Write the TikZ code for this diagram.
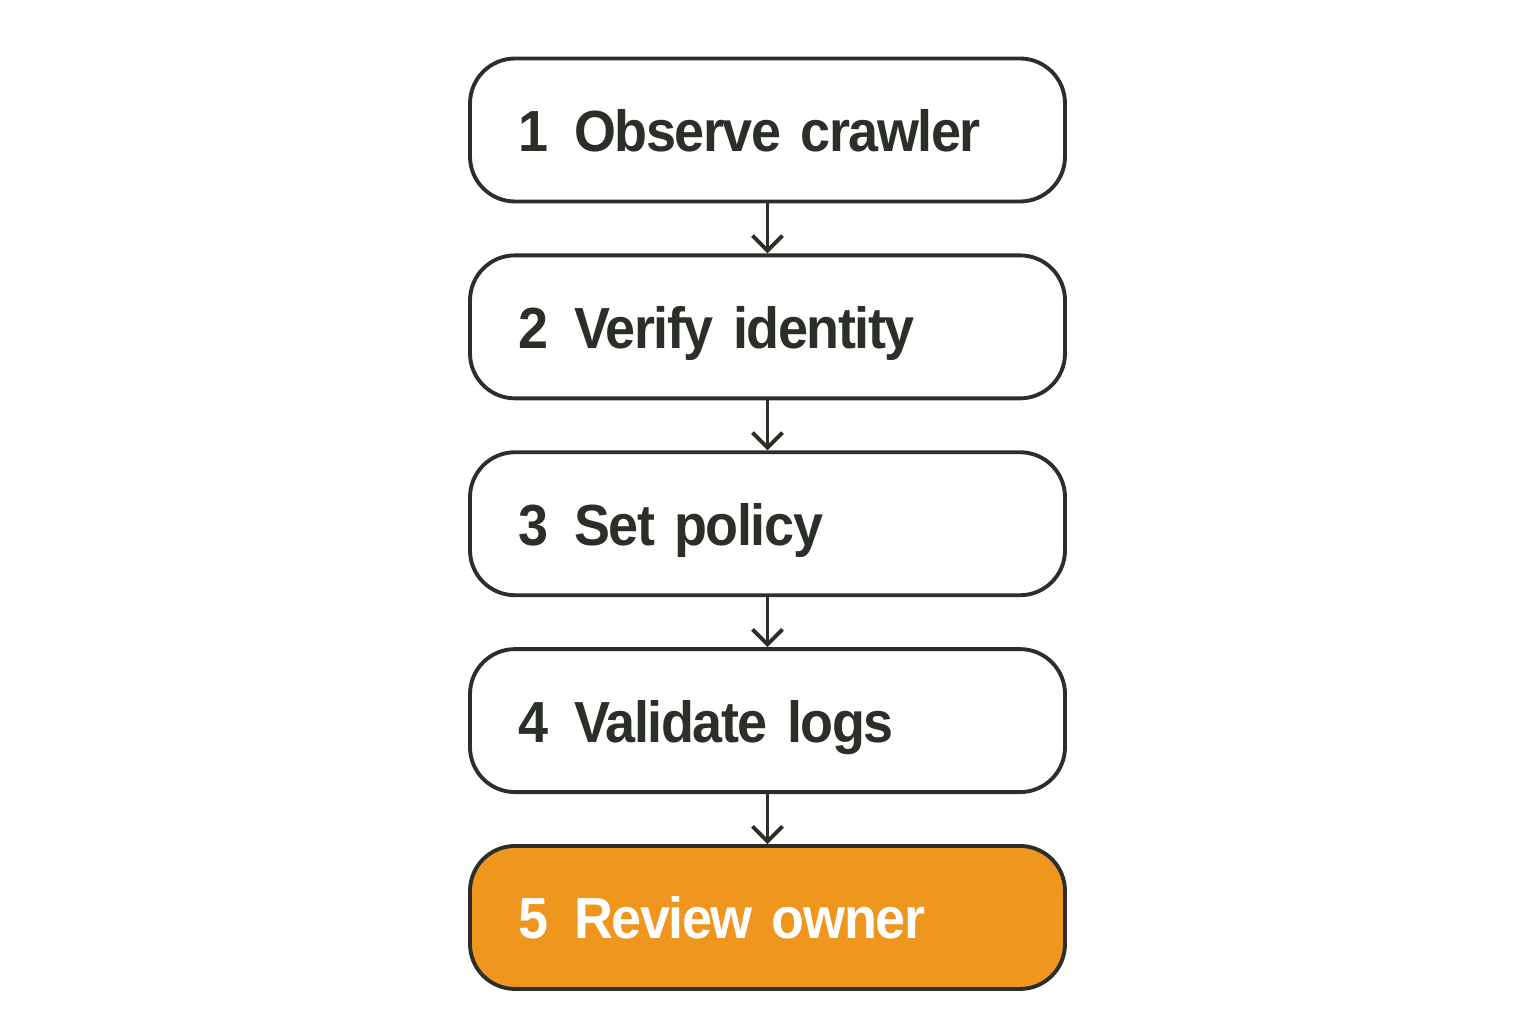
\documentclass[tikz,border=0pt]{standalone}
\usepackage{fontspec}
\setmainfont{Liberation Sans}[FakeStretch=0.93,LetterSpace=-2.5]
\usepackage{xcolor}
\usepackage{tikz}
\usetikzlibrary{positioning,arrows.meta}

\definecolor{inkdark}{HTML}{2A2F27}
\definecolor{ownerorange}{HTML}{EF961F}
\newcommand{\stepfont}{\fontsize{16.5}{19}\selectfont\bfseries\fontdimen2\font=0.12em\relax}

\begin{document}
\begin{tikzpicture}[
    node distance=0.50cm,
    stepbox/.style={rectangle,rounded corners=0.45cm,draw=inkdark,line width=1.1pt,
        minimum width=5.95cm,minimum height=1.43cm,inner xsep=0.48cm,
        text width=4.99cm,text height=0.43cm,text depth=0cm,align=left,
        font=\stepfont,text=inkdark,fill=white},
    arrow/.style={-{Straight Barb[length=1.5mm,width=3.0mm]},line width=1.1pt,inkdark}
]
\useasboundingbox (0,0) rectangle (15.36,10.24);

\node[stepbox] (observe) at (7.675,8.94) {1\hspace{0.45em}Observe crawler};
\node[stepbox,below=of observe] (verify) {2\hspace{0.45em}Verify identity};
\node[stepbox,below=of verify] (policy) {3\hspace{0.45em}Set policy};
\node[stepbox,below=of policy] (logs) {4\hspace{0.45em}Validate logs};
\node[stepbox,below=of logs,fill=ownerorange,text=white] (owner) {5\hspace{0.45em}Review owner};

\draw[arrow] (observe) -- (verify);
\draw[arrow] (verify) -- (policy);
\draw[arrow] (policy) -- (logs);
\draw[arrow] (logs) -- (owner);

\end{tikzpicture}
\end{document}
